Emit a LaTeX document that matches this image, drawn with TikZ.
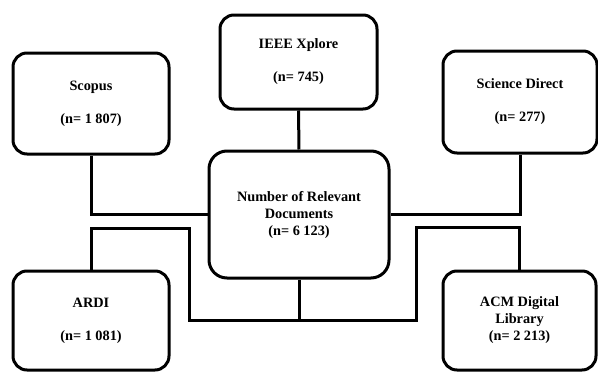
\documentclass[tikz,border=0pt]{standalone}
\usepackage{fontspec}
\setmainfont{Liberation Serif}
\begin{document}
\begin{tikzpicture}[x=1pt,y=-1pt,
  box/.style={draw=black,line width=3pt,rounded corners=14pt,fill=white,
    inner sep=0pt,align=center,font=\fontsize{14.3}{17}\selectfont\bfseries},
  link/.style={draw=black,line width=3pt}]
\useasboundingbox (0,0) rectangle (598,372);
\node[box,minimum width=156pt,minimum height=101pt] (scopus) at (91,103.5) {Scopus\\[16pt](n= 1 807)};
\node[box,minimum width=157pt,minimum height=94pt] (ieee) at (298.5,62) {IEEE Xplore\\[16pt](n= 745)};
\node[box,minimum width=154pt,minimum height=102pt] (sd) at (520,102) {Science Direct\\[16pt](n= 277)};
\node[box,minimum width=180pt,minimum height=127pt,rounded corners=18pt] (central) at (299,214.5) {Number of Relevant\\Documents\\(n= 6 123)};
\node[box,minimum width=156pt,minimum height=99pt] (ardi) at (91,320.5) {ARDI\\[16pt](n= 1 081)};
\node[box,minimum width=153pt,minimum height=99pt] (acm) at (519.5,320.5) {ACM Digital\\Library\\(n= 2 213)};
\coordinate (a1) at (91,228);
\coordinate (a2) at (189,228);
\coordinate (a3) at (189,320);
\coordinate (a4) at (416,320);
\coordinate (a5) at (416,227);
\coordinate (a6) at (519.5,227);
\coordinate (cb) at (299,320);
\draw[link] (scopus.south) |- (central.west);
\draw[link] (sd.south) |- (central.east);
\draw[link] (ieee.south) -- (central.north);
\draw[link] (ardi.north) -- (a1) -- (a2) -- (a3) -- (a4) -- (a5) -- (a6) -- (acm.north);
\draw[link] (central.south) -- (cb);
\end{tikzpicture}
\end{document}
